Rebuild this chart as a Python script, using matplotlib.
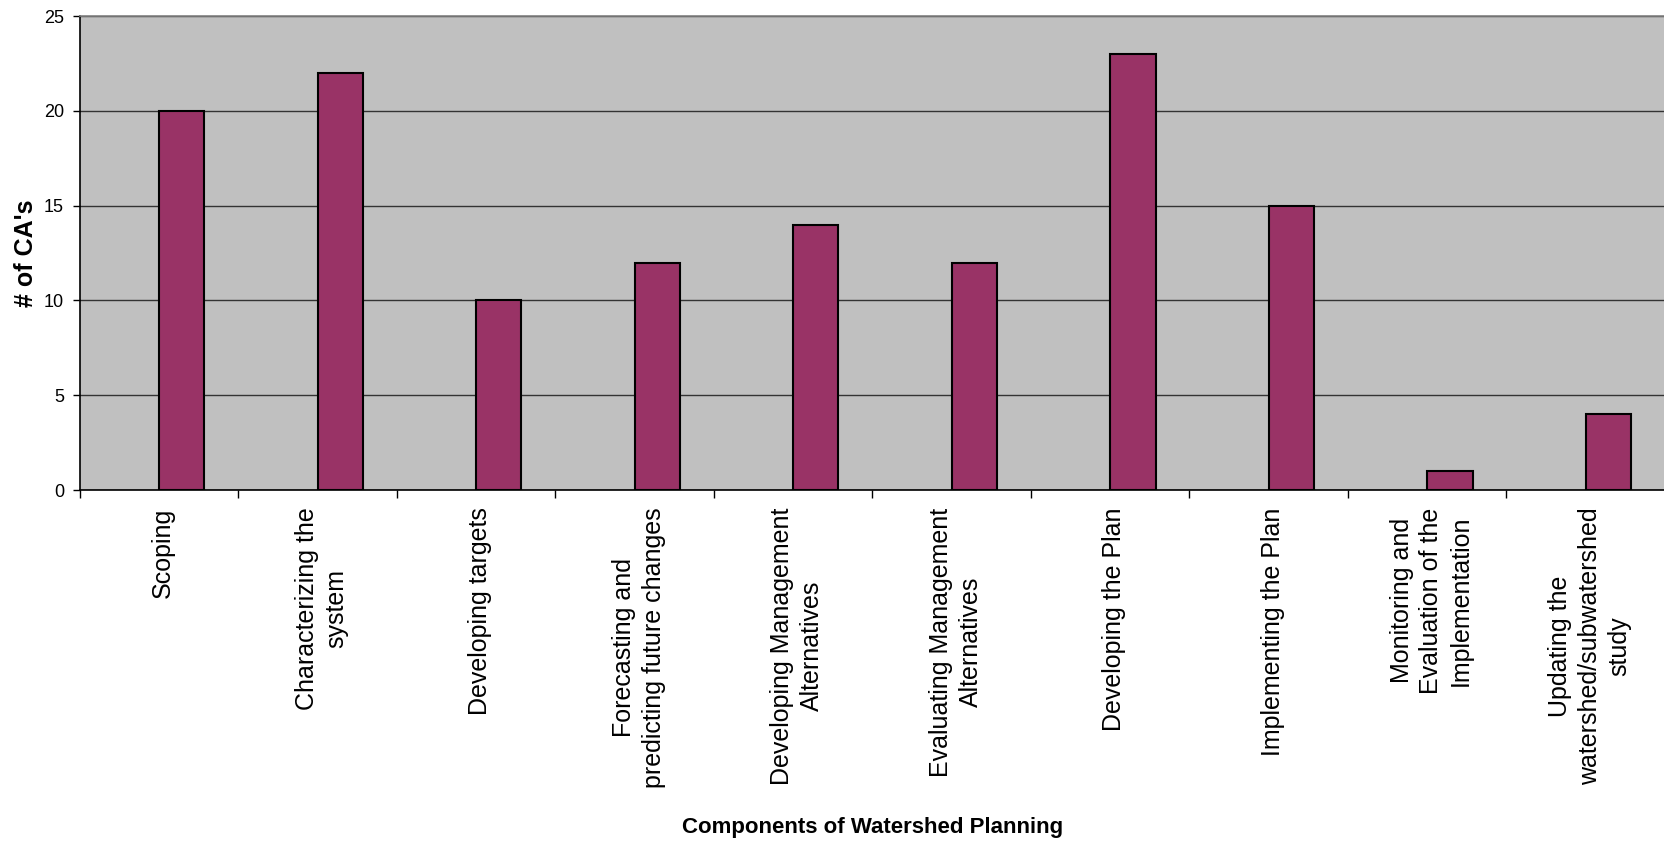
import numpy as np
import matplotlib
matplotlib.use("Agg")
import matplotlib.pyplot as plt
from matplotlib.transforms import ScaledTranslation

# data
categories = [
    "Scoping",
    "Characterizing the\nsystem",
    "Developing targets",
    "Forecasting and\npredicting future changes",
    "Developing Management\nAlternatives",
    "Evaluating Management\nAlternatives",
    "Developing the Plan",
    "Implementing the Plan",
    "Monitoring and\nEvaluation of the\nImplementation",
    "Updating the\nwatershed/subwatershed\nstudy",
]
counts = [20, 22, 10, 12, 14, 12, 23, 15, 1, 4]
y_ticks = [0, 5, 10, 15, 20, 25]

plt.rcParams["font.family"] = ["Liberation Sans", "DejaVu Sans"]

fig = plt.figure(figsize=(16.65, 8.44), dpi=100)
ax = fig.add_axes([0.048, 0.4194, 0.952, 0.5616])
ax.set_facecolor("#C0C0C0")

x = np.arange(len(categories))
# Excel-style clustered layout: bar sits in right half of its category slot
bar_w = 1 / 3.5
ax.bar(x, counts, width=bar_w, align="edge", color="#993366",
       edgecolor="black", linewidth=1.5, zorder=3)

ax.set_ylim(0, 25)
ax.set_xlim(-0.5, 9.456)
ax.set_yticks(y_ticks)
ax.tick_params(axis="y", labelsize=13, length=5, width=1, pad=6.5)
ax.yaxis.grid(True, color="#333333", linewidth=1)
ax.set_axisbelow(True)

ax.set_xticks(x)
ax.set_xticklabels(categories, rotation=90, ha="center", va="top",
                   multialignment="center", fontsize=18, linespacing=1.3)
ax.tick_params(axis="x", which="major", length=0, pad=12.5)
ax.set_xticks(np.arange(len(categories) + 1) - 0.5, minor=True)
ax.tick_params(axis="x", which="minor", length=6, width=1, color="black")
shift = ScaledTranslation(4 / 100, 0, fig.dpi_scale_trans)
for lbl in ax.get_xticklabels():
    lbl.set_transform(lbl.get_transform() + shift)

ax.spines["left"].set_color("black")
ax.spines["bottom"].set_color("black")
ax.spines["top"].set_color("#808080")
ax.spines["right"].set_visible(False)
for s in ax.spines.values():
    s.set_linewidth(1.2)

ax.set_ylabel("# of CA's", fontsize=18, fontweight="bold")
ax.yaxis.set_label_coords(-0.0264, 0.5)
ax.set_xlabel("Components of Watershed Planning", fontsize=16, fontweight="bold")
ax.xaxis.set_label_coords(0.5, -0.69)
ax.xaxis.label.set_va("top")

fig.savefig("out.png", dpi=100)
